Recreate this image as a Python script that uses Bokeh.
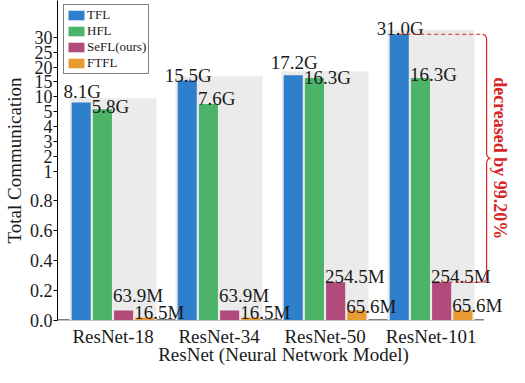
import numpy as np
from bokeh.plotting import figure
from bokeh.models import FixedTicker
from bokeh.core.properties import value
from bokeh.embed import file_html
from bokeh.resources import INLINE

# ---------------- data ----------------
models = ["ResNet-18", "ResNet-34", "ResNet-50", "ResNet-101"]
series_names = ["TFL", "HFL", "SeFL(ours)", "FTFL"]
tfl = [8.1, 15.5, 17.2, 31.0]            # GB
hfl = [5.8, 7.6, 16.3, 16.3]             # GB
sefl = [0.0639, 0.0639, 0.2545, 0.2545]  # GB
ftfl = [0.0165, 0.0165, 0.0656, 0.0656]  # GB
tfl_labels = ["8.1G", "15.5G", "17.2G", "31.0G"]
hfl_labels = ["5.8G", "7.6G", "16.3G", "16.3G"]
sefl_labels = ["63.9M", "63.9M", "254.5M", "254.5M"]
ftfl_labels = ["16.5M", "16.5M", "65.6M", "65.6M"]
y_tick_values = [0.0, 0.2, 0.4, 0.6, 0.8, 1, 2, 3, 4, 5, 10, 15, 20, 25, 30]
y_tick_labels = ["0.0", "0.2", "0.4", "0.6", "0.8", "1", "2", "3", "4", "5",
                 "10", "15", "20", "25", "30"]
x_title = "ResNet (Neural Network Model)"
y_title = "Total Communication"
reduction_text = "decreased by 99.20%"

# ---------------- styles ----------------
colors = ["#2f7fcc", "#4cb469", "#b24a7c", "#e99a31"]
label_gaps = [[11, 5, 13, 6], [3, 5, 1, 4], [15, 15, 6, 6], [5, 5, 4, 5]]
FONT = "Liberation Serif"
RED = "#d62728"
TXT = "#1a1a1a"
W, H = 509, 367
FRAME_H = 322


def tr(v):
    """piecewise-linear broken scale: 0-1 | 1-5 | 5-30"""
    if v <= 1:
        t = v / 0.2
    elif v <= 5:
        t = 5 + (v - 1) / 2.0
    else:
        t = 7 + (v - 5) / 10.0
    return round(t, 6)


xs = np.arange(len(models), dtype=float)
offsets = [-0.3, -0.1, 0.1, 0.3]
bw = 0.18
data = [tfl, hfl, sefl, ftfl]
labels = [tfl_labels, hfl_labels, sefl_labels, ftfl_labels]

p = figure(width=W, height=H, x_range=(-0.5236, 3.74), y_range=(-0.0167, 10.735),
           output_backend="svg", toolbar_location=None,
           min_border_left=57, min_border_right=0, min_border_top=0,
           min_border_bottom=H - FRAME_H)
p.outline_line_color = None
p.xgrid.grid_line_color = None
p.ygrid.grid_line_color = None
p.background_fill_color = "white"

# baseline (bottom spine) underneath everything
bl = p.line(x=[-0.5236, 3.5], y=[0, 0], line_color="black", line_width=1.2)
bl.level = "underlay"

# gray group backgrounds
tops = [tr(max(vals)) + 0.14 for vals in zip(*data)]
p.quad(left=xs - 0.41, right=xs + 0.41, bottom=0, top=tops,
       fill_color="#ebebeb", line_color=None)

# bars
for k, (vals, name, col) in enumerate(zip(data, series_names, colors)):
    p.vbar(x=xs + offsets[k], top=[tr(v) for v in vals], width=bw,
           fill_color=col, line_color=None, legend_label=name)

# value labels
for k, (vals, labs) in enumerate(zip(data, labels)):
    if k == 0:
        xx = xs + offsets[k]
        align = "center"
        xo = 1
    else:
        xx = xs + offsets[k] - bw / 2
        align = "left"
        xo = -1
    p.text(x=xx, y=[tr(v) for v in vals], text=labs,
           y_offset=[-g for g in label_gaps[k]], x_offset=xo,
           text_font=value(FONT), text_font_size="19px", text_color=TXT,
           text_align=align, text_baseline="alphabetic")

# reduction annotation (dashed guides + curly brace + text)
last = len(models) - 1
y_top = tr(tfl[last])
y_bot = tr(sefl[last])
y_mid = (y_top + y_bot) / 2
xh = last + 0.486
rx = 0.038
ry = 0.17
xb = xh + rx
p.line(x=[last + offsets[0], xh], y=[y_top, y_top], line_color=RED,
       line_width=1, line_dash="4 3")
p.line(x=[last + offsets[2], xh], y=[y_bot, y_bot], line_color=RED,
       line_width=1, line_dash="4 3")
th = np.linspace(0, np.pi / 2, 12)
bx, by = [], []
bx += list(xh + rx * np.sin(th)); by += list(y_top - ry * (1 - np.cos(th)))
bx += list(xb + rx * (1 - np.cos(th))); by += list(y_mid + ry * (1 - np.sin(th)))
bx += list(xb + rx * (1 - np.cos(th[::-1]))); by += list(y_mid - ry * (1 - np.sin(th[::-1])))
bx += list(xh + rx * np.sin(th[::-1])); by += list(y_bot + ry * (1 - np.cos(th[::-1])))
p.line(x=bx, y=by, line_color=RED, line_width=1.2)
p.text(x=[last + 0.646], y=[y_mid], text=[reduction_text], angle=-np.pi / 2,
       text_font=value(FONT), text_font_size="18px", text_font_style="bold",
       text_color=RED, text_align="center", text_baseline="middle")

# axes
p.yaxis.ticker = FixedTicker(ticks=[tr(v) for v in y_tick_values])
p.yaxis.major_label_overrides = {tr(v): s for v, s in zip(y_tick_values, y_tick_labels)}
p.yaxis.major_label_text_font = FONT
p.yaxis.major_label_text_font_size = "18px"
p.yaxis.major_label_text_color = TXT
p.yaxis.major_label_standoff = 1
p.yaxis.major_tick_out = 4
p.yaxis.major_tick_in = 0
p.yaxis.minor_tick_line_color = None
p.yaxis.axis_line_color = "black"
p.yaxis.major_tick_line_color = "black"
p.yaxis.axis_label = y_title
p.yaxis.axis_label_text_font = FONT
p.yaxis.axis_label_text_font_size = "19px"
p.yaxis.axis_label_text_font_style = "normal"
p.yaxis.axis_label_text_color = TXT
p.yaxis.axis_label_standoff = 2

p.xaxis.ticker = FixedTicker(ticks=list(range(len(models))))
p.xaxis.major_label_overrides = {i: m for i, m in enumerate(models)}
p.xaxis.major_label_text_font = FONT
p.xaxis.major_label_text_font_size = "19px"
p.xaxis.major_label_text_color = TXT
p.xaxis.major_label_standoff = 5
p.xaxis.major_tick_out = 0
p.xaxis.major_tick_in = 0
p.xaxis.minor_tick_line_color = None
p.xaxis.axis_line_color = None
p.xaxis.axis_label = x_title
p.xaxis.axis_label_text_font = FONT
p.xaxis.axis_label_text_font_size = "19px"
p.xaxis.axis_label_text_font_style = "normal"
p.xaxis.axis_label_text_color = TXT
p.xaxis.axis_label_standoff = -6

# legend
lg = p.legend[0]
lg.label_text_font = FONT
lg.label_text_font_size = "13px"
lg.label_text_color = TXT
lg.glyph_width = 20
lg.glyph_height = 12
lg.label_height = 12
lg.label_standoff = 1
lg.padding = 2
lg.spacing = 0
lg.margin = 0
lg.location = (6, FRAME_H - 76)
lg.border_line_color = "black"
lg.border_line_width = 1
lg.background_fill_alpha = 1

open("out.html", "w").write(file_html(p, INLINE))
